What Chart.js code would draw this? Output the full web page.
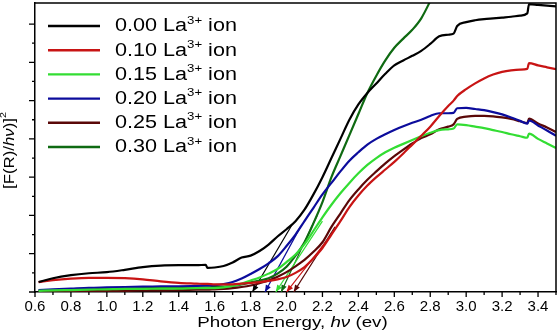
<!DOCTYPE html>
<html><head><meta charset="utf-8">
<script src="https://cdn.jsdelivr.net/npm/chart.js@4.4.0/dist/chart.umd.min.js"></script>
<style>html,body{margin:0;padding:0;background:#fff;overflow:hidden}canvas{display:block}</style>
</head><body>
<canvas id="c" width="559" height="333"></canvas>
<script>
// ---------- data ----------
const energy = [0.62,0.7,0.8,0.9,1.0,1.1,1.2,1.3,1.4,1.5,1.55,1.56,1.6,1.65,1.7,1.75,1.8,1.85,1.9,1.95,2.0,2.05,2.1,2.15,2.2,2.25,2.3,2.35,2.4,2.45,2.5,2.55,2.6,2.65,2.7,2.75,2.8,2.85,2.9,2.93,2.95,3.0,3.05,3.1,3.15,3.2,3.25,3.3,3.34,3.35,3.4,3.45,3.5];
const la000 = [0.26,0.36,0.44,0.49,0.52,0.58,0.65,0.69,0.70,0.70,0.71,0.63,0.64,0.68,0.77,0.90,0.95,1.07,1.24,1.45,1.64,1.85,2.15,2.55,3.0,3.5,4.0,4.5,4.9,5.2,5.45,5.7,5.92,6.05,6.17,6.3,6.48,6.68,6.72,6.75,6.95,7.05,7.1,7.13,7.15,7.17,7.19,7.22,7.28,7.52,7.5,7.48,7.46];
const la010 = [0.26,0.31,0.35,0.37,0.37,0.36,0.33,0.28,0.24,0.22,0.21,0.21,0.20,0.20,0.20,0.22,0.24,0.26,0.29,0.33,0.39,0.50,0.65,0.88,1.15,1.5,1.85,2.22,2.52,2.78,3.0,3.2,3.4,3.62,3.85,4.08,4.32,4.6,4.86,5.0,5.12,5.3,5.45,5.58,5.68,5.75,5.79,5.81,5.83,5.98,5.92,5.87,5.82];
const la015 = [0.03,0.04,0.05,0.06,0.07,0.08,0.08,0.09,0.09,0.10,0.10,0.10,0.10,0.12,0.16,0.22,0.30,0.38,0.48,0.60,0.78,0.98,1.25,1.6,1.95,2.28,2.58,2.85,3.1,3.32,3.5,3.65,3.77,3.87,3.97,4.07,4.16,4.23,4.25,4.27,4.38,4.36,4.32,4.28,4.23,4.18,4.12,4.07,4.03,4.14,4.0,3.88,3.76];
const la020 = [0.05,0.07,0.09,0.11,0.12,0.13,0.14,0.15,0.15,0.16,0.17,0.17,0.18,0.21,0.26,0.35,0.47,0.60,0.75,0.93,1.2,1.5,1.85,2.2,2.55,2.85,3.15,3.43,3.65,3.85,4.0,4.12,4.23,4.33,4.42,4.5,4.6,4.67,4.67,4.68,4.8,4.81,4.78,4.75,4.7,4.64,4.56,4.47,4.4,4.48,4.35,4.22,4.08];
const la025 = [0.02,0.02,0.03,0.03,0.03,0.03,0.04,0.04,0.05,0.06,0.06,0.06,0.07,0.08,0.10,0.13,0.17,0.23,0.30,0.40,0.52,0.67,0.84,1.05,1.3,1.7,2.05,2.4,2.68,2.93,3.15,3.36,3.55,3.72,3.88,4.02,4.12,4.25,4.32,4.38,4.52,4.58,4.6,4.6,4.59,4.56,4.52,4.46,4.41,4.53,4.4,4.3,4.18];
const la030 = [0.04,0.05,0.06,0.07,0.08,0.09,0.10,0.10,0.11,0.12,0.12,0.12,0.13,0.14,0.16,0.20,0.25,0.30,0.36,0.48,0.66,0.95,1.3,1.8,2.35,3.0,3.55,4.1,4.65,5.2,5.65,6.05,6.38,6.62,6.85,7.15,7.6,8.1,null,null,null,null,null,null,null,null,null,null,null,null,null,null,null];
const concentrations = ['0.00','0.10','0.15','0.20','0.25','0.30'];
// extrapolated band-gap tangents: x-intercept and upper end point
const interceptE = [1.81, 2.00, 1.94, 1.88, 2.04, 1.97];
const tangentEndE = [2.03, 2.25, 2.20, 2.08, 2.27, 2.17];
const tangentEndV = [1.75, 1.50, 1.85, 1.72, 1.70, 2.00];
const xTickValues = [0.6,0.8,1.0,1.2,1.4,1.6,1.8,2.0,2.2,2.4,2.6,2.8,3.0,3.2,3.4];
const xMinorTicks = [0.7,0.9,1.1,1.3,1.5,1.7,1.9,2.1,2.3,2.5,2.7,2.9,3.1,3.3,3.5];
const yTickValues = [0,1,2,3,4,5,6,7];
const yMinorTicks = [0.5,1.5,2.5,3.5,4.5,5.5,6.5];

// ---------- styles ----------
const seriesValues = [la000, la010, la015, la020, la025, la030];
const colors = ['#000000', '#c81414', '#33dd33', '#0c0c9c', '#5a0808', '#0f6a12'];
const FONT = "'Liberation Sans', Arial, sans-serif";

const datasets = [];
seriesValues.forEach((vals, i) => {
  datasets.push({
    label: concentrations[i] + ' La\u00B3\u207A ion',
    conc: concentrations[i],
    data: energy.map((e, k) => ({x: e, y: vals[k]})),
    borderColor: colors[i], backgroundColor: colors[i],
    borderWidth: 2.2, pointRadius: 0, fill: false,
    cubicInterpolationMode: 'monotone', spanGaps: false, clip: 0,
    isMain: true
  });
});
seriesValues.forEach((vals, i) => {
  datasets.push({
    label: 'tangent ' + concentrations[i],
    data: [{x: interceptE[i], y: 0}, {x: tangentEndE[i], y: tangentEndV[i]}],
    borderColor: colors[i], backgroundColor: colors[i],
    borderWidth: 1.2, pointRadius: 0, fill: false, tension: 0,
    isTangent: true
  });
});

function drawRich(ctx, parts, align) {
  let total = 0;
  const widths = parts.map(p => {
    ctx.font = (p.italic ? 'italic ' : '') + p.size + 'px ' + FONT;
    const w = ctx.measureText(p.t).width; total += w; return w;
  });
  let x = align === 'center' ? -total / 2 : 0;
  parts.forEach((p, k) => {
    ctx.font = (p.italic ? 'italic ' : '') + p.size + 'px ' + FONT;
    ctx.fillText(p.t, x, p.dy || 0);
    x += widths[k];
  });
}

const decorPlugin = {
  id: 'decor',
  afterDatasetsDraw(chart) {
    const ctx = chart.ctx, a = chart.chartArea;
    const xs = chart.scales.x, ys = chart.scales.y;
    ctx.save();
    // frame
    ctx.strokeStyle = '#000'; ctx.lineWidth = 1.5;
    ctx.beginPath();
    ctx.moveTo(a.left, a.top); ctx.lineTo(a.right, a.top); ctx.lineTo(a.right, a.bottom);
    ctx.stroke();
    // ticks
    ctx.lineWidth = 1.3;
    ctx.beginPath();
    xTickValues.forEach(v => { const p = xs.getPixelForValue(v); ctx.moveTo(p, a.bottom); ctx.lineTo(p, a.bottom + 5); });
    xMinorTicks.forEach(v => { const p = xs.getPixelForValue(v); if (p <= a.right + 0.5) { ctx.moveTo(p, a.bottom); ctx.lineTo(p, a.bottom + 3); } });
    yTickValues.forEach(v => { const p = ys.getPixelForValue(v); ctx.moveTo(a.left, p); ctx.lineTo(a.left - 6, p); });
    yMinorTicks.forEach(v => { const p = ys.getPixelForValue(v); ctx.moveTo(a.left, p); ctx.lineTo(a.left - 3, p); });
    ctx.stroke();
    // arrowheads on tangents
    chart.data.datasets.forEach((ds, i) => {
      if (!ds.isTangent) return;
      const m = chart.getDatasetMeta(i);
      const p0 = m.data[0], p1 = m.data[1];
      const ang = Math.atan2(p0.y - p1.y, p0.x - p1.x);
      const L = 7, W = 2.8;
      ctx.fillStyle = ds.borderColor;
      ctx.beginPath();
      ctx.moveTo(p0.x, p0.y);
      ctx.lineTo(p0.x - L * Math.cos(ang) + W * Math.sin(ang), p0.y - L * Math.sin(ang) - W * Math.cos(ang));
      ctx.lineTo(p0.x - L * Math.cos(ang) - W * Math.sin(ang), p0.y - L * Math.sin(ang) + W * Math.cos(ang));
      ctx.closePath(); ctx.fill();
    });
    // legend
    const mains = chart.data.datasets.filter(d => d.isMain);
    ctx.textBaseline = 'middle'; ctx.textAlign = 'left';
    mains.forEach((ds, i) => {
      const y = a.top + 23 + i * 24.2;
      ctx.strokeStyle = ds.borderColor; ctx.lineWidth = 2.4;
      ctx.beginPath(); ctx.moveTo(a.left + 13, y); ctx.lineTo(a.left + 65, y); ctx.stroke();
      ctx.save();
      ctx.translate(a.left + 80, y + 0.5);
      ctx.scale(1.2, 1);
      ctx.fillStyle = '#000';
      drawRich(ctx, [
        {t: ds.conc + ' La', size: 18},
        {t: '3+', size: 11, dy: -6},
        {t: ' ion', size: 18}
      ], 'left');
      ctx.restore();
    });
    // x title
    ctx.fillStyle = '#000';
    ctx.save();
    ctx.translate((a.left + a.right) / 2 - 3, a.bottom + 31);
    ctx.scale(1.25, 1);
    drawRich(ctx, [
      {t: 'Photon Energy, ', size: 15},
      {t: 'h\u03BD', size: 15, italic: true},
      {t: ' (ev)', size: 15}
    ], 'center');
    ctx.restore();
    // y title
    ctx.save();
    ctx.translate(10, (a.top + a.bottom) / 2 + 3);
    ctx.rotate(-Math.PI / 2);
    ctx.scale(1.2, 1);
    drawRich(ctx, [
      {t: '[F(R)/', size: 14},
      {t: 'h\u03BD', size: 14, italic: true},
      {t: ')]', size: 14},
      {t: '2', size: 9, dy: -6}
    ], 'center');
    ctx.restore();
    ctx.restore();
  }
};

new Chart(document.getElementById('c'), {
  type: 'line',
  data: { datasets },
  options: {
    responsive: false, animation: false,
    layout: { padding: { top: 3, right: 3, left: 0, bottom: 0 } },
    plugins: { legend: { display: false }, tooltip: { enabled: false } },
    scales: {
      x: {
        type: 'linear', min: 0.6, max: 3.5,
        afterBuildTicks: s => { s.ticks = xTickValues.map(v => ({ value: v })); },
        afterFit: s => { s.height = 41; },
        grid: { display: false, drawTicks: false },
        border: { display: true, color: '#000', width: 1.5 },
        ticks: { padding: 6, color: '#000', font: { family: FONT, size: 15 }, maxRotation: 0, autoSkip: false,
          callback: v => Number(v).toFixed(1) }
      },
      y: {
        type: 'linear', min: 0, max: 7.55,
        afterBuildTicks: s => { s.ticks = yTickValues.map(v => ({ value: v })); },
        afterFit: s => { s.width = 35; },
        grid: { display: false, drawTicks: false },
        border: { display: true, color: '#000', width: 1.5 },
        ticks: { display: false }
      }
    }
  },
  plugins: [decorPlugin]
});
</script>
</body></html>
